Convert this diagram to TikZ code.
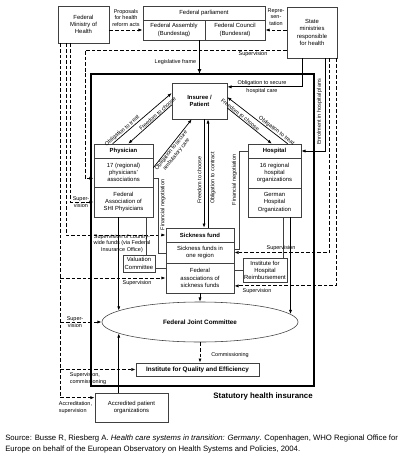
\documentclass[tikz,border=0pt]{standalone}
\usepackage{fontspec}
\setmainfont{Liberation Sans}
\usetikzlibrary{arrows.meta, shapes.geometric}

\begin{document}
\begin{tikzpicture}[x=0.025cm, y=-0.025cm,
    box/.style={draw=black!75, line width=0.4pt, fill=white, inner sep=0.5pt, align=center, font=\fontsize{4.2}{5.2}\selectfont},
    head/.style={box, font=\bfseries\fontsize{4.2}{5.2}\selectfont},
    lbl/.style={inner sep=0.4pt, align=center, font=\fontsize{3.9}{4.7}\selectfont},
    arr/.style={line width=0.5pt, -{Latex[length=3pt, width=2.2pt]}},
    rarr/.style={line width=0.5pt, {Latex[length=3pt, width=2.2pt]}-},
    sup/.style={arr, line width=0.6pt, dash pattern=on 2.6pt off 1.4pt},
    plain/.style={line width=0.35pt, draw=black!75}]
    \useasboundingbox (0, 0) rectangle (400, 461);
    \draw[line width=1.3pt] (91, 74) rectangle (314, 386);
    \coordinate (shitop) at (199.5, 74);
    \coordinate (kvx) at (85, 0);
    \coordinate (fnl) at (158, 253);
    \coordinate (fnr) at (239, 249);

    \node[box, minimum width=1.275cm, minimum height=0.925cm] (fmh) at (83.5, 24.5) {Federal\\Ministry of\\Health};
    \node[box, minimum width=3.05cm, minimum height=0.35cm] (parl) at (204, 13) {Federal parliament};
    \node[box, minimum width=1.55cm, minimum height=0.5cm] (bt) at (174, 30) {Federal Assembly\\(Bundestag)};
    \node[box, minimum width=1.5cm, minimum height=0.5cm] (br) at (235, 30) {Federal Council\\(Bundesrat)};
    \node[box, minimum width=1.25cm, minimum height=1.275cm] (sm) at (312, 32.5) {State\\ministries\\responsible\\for health};
    \node[head, minimum width=1.375cm, minimum height=0.9cm] (ins) at (199.5, 101) {Insuree /\\Patient};

    \node[head, minimum width=1.475cm, minimum height=0.35cm] (phys) at (123.5, 151) {Physician};
    \node[box, minimum width=1.475cm, minimum height=0.725cm] (kv) at (123.5, 172.5) {17 (regional)\\physicians'\\associations};
    \node[box, minimum width=1.475cm, minimum height=0.75cm] (kbv) at (123.5, 202) {Federal\\Association of\\SHI Physicians};
    \node[head, minimum width=1.325cm, minimum height=0.35cm] (hosp) at (274.5, 151) {Hospital};
    \node[box, minimum width=1.325cm, minimum height=0.75cm] (hospreg) at (274.5, 173) {16 regional\\hospital\\organizations};
    \node[box, minimum width=1.325cm, minimum height=0.725cm] (dkg) at (274.5, 202.5) {German\\Hospital\\Organization};
    \node[head, minimum width=1.7cm, minimum height=0.35cm] (sf) at (200, 235) {Sickness fund};
    \node[box, minimum width=1.7cm, minimum height=0.525cm] (sfreg) at (200, 252.5) {Sickness funds in\\one region};
    \node[box, minimum width=1.7cm, minimum height=0.75cm] (sffed) at (200, 278) {Federal\\associations of\\sickness funds};
    \node[box, minimum width=0.8cm, minimum height=0.425cm] (val) at (139, 263.5) {Valuation\\Committee};
    \node[box, minimum width=1.1cm, minimum height=0.6cm] (inek) at (265, 270.5) {Institute for\\Hospital\\Reimbursement};
    \node[box, ellipse, font=\bfseries\fontsize{4.5}{5.4}\selectfont, minimum width=4.9cm, minimum height=1cm] (gba) at (200, 322) {Federal Joint Committee};
    \node[box, font=\bfseries\fontsize{4.5}{5.4}\selectfont, minimum width=3.075cm, minimum height=0.325cm] (iqwig) at (197.5, 369.5) {Institute for Quality and Efficiency};
    \node[box, minimum width=1.825cm, minimum height=0.725cm] (pat) at (131.5, 407.5) {Accredited patient\\organizations};

    \draw[sup] (fmh.east |- bt.west) -- (bt.west);
    \draw[sup] (sm.west |- br.east) -- (br.east);
    \draw[line width=1pt, -{Latex[length=3.5pt, width=2.8pt]}] (bt.south -| shitop) -- (shitop);
    \draw[sup] (sm.215) -| (kvx |- kv.191) -- (kv.191);
    \draw[arr] (sm.249) |- (ins.27);
    \draw[arr] (sm.-63) |- (hosp.east);
    \draw[sup] (sm.-56) |- (sfreg.east);
    \draw[sup] (sm.-47) |- (sffed.-13);

    \draw[sup] (fmh.236) |- (kbv.west);
    \draw[sup] (fmh.227) |- (sf.west);
    \draw[sup] (fmh.219) |- (pat.165);
    \foreach \t in {sffed.west, gba.west, iqwig.west}
        \draw[sup] (fmh.219 |- \t) -- (\t);

    \draw[arr] (phys.146) -- node[lbl, sloped, above, pos=0.2] (ot1) {Obligation to treat} (ins.164);
    \draw[rarr] (phys.57) -- node[lbl, sloped, above, pos=0.72] (fc1) {Freedom to choose} (ins.188);
    \draw[arr] (kv.9) -- node[lbl, sloped, below, pos=0.4] (os1) {Obligation to secure\\ambulatory care} (ins.247);
    \draw[rarr] (ins.8) -- node[lbl, sloped, above, pos=0.78] (ot2) {Obligation to treat} (hosp.29);
    \draw[arr] (ins.-14) -- node[lbl, sloped, above, pos=0.25] (fc2) {Freedom to choose} (hosp.110);
    \draw[arr] (ins.-76) -- (ins.-76 |- sf.north);
    \draw[rarr] (ins.-65) -- (ins.-65 |- sf.north);

    \draw[plain] (kv.-10) -| (fnl) -- (fnl -| sfreg.west);
    \draw[plain] (hosp.west) -| (fnr) -- (fnr -| sfreg.east);
    \draw[plain] (val.50) -- (val.50 |- kbv.south);
    \draw[plain] (val.-15) -- (val.-15 -| sffed.west);
    \draw[plain] (inek.34) -- (inek.34 |- dkg.south);
    \draw[plain] (inek.west) -- (inek.west -| sffed.east);

    \draw[arr] (kbv.south -| gba.172) -- (gba.172);
    \draw[arr] (dkg.south -| gba.5) -- (gba.5);
    \draw[arr] (sffed.south) -- (gba.north);
    \draw[arr] (pat.north -| gba.188) -- (gba.188);
    \draw[sup] (gba.south) -- (gba.south |- iqwig.north);

    \node[lbl] (prop) at (126, 18) {Proposals\\for health\\reform acts};
    \node[lbl] (repr) at (276, 17) {Repre-\\sen-\\tation};
    \node[lbl] (sup1) at (253, 54.5) {Supervision};
    \node[lbl, anchor=east] (legis) at (197, 62) {Legislative frame};
    \node[lbl] (hc1) at (262, 83.5) {Obligation to secure};
    \node[lbl] (hc2) at (262, 91) {hospital care};
    \node[lbl, rotate=90] (enrol) at (319.5, 112) {Enrolment in hospital plans};
    \node[lbl, rotate=90] (fc3) at (199.5, 180) {Freedom to choose};
    \node[lbl, rotate=90] (oc) at (213, 178) {Obligation to contract};
    \node[lbl, rotate=90] (fn1) at (163, 205) {Financial negotiation};
    \node[lbl, rotate=90] (fn2) at (234.5, 180) {Financial negotiation};
    \node[lbl] (sup2) at (281, 248) {Supervision};
    \node[lbl] (sup3) at (257, 291.5) {Supervision};
    \node[lbl] (sup4) at (81, 202) {Super-\\vision};
    \node[lbl] (sup5) at (122, 243.5) {Supervision of country-\\wide funds (via Federal\\Insurance Office)};
    \node[lbl] (sup6) at (137, 283) {Supervision};
    \node[lbl] (sup7) at (75, 322) {Super-\\vision};
    \node[lbl, anchor=north west, align=left] (sup8) at (69, 372) {Supervision,\\commissioning};
    \node[lbl, anchor=north west, align=left] (acc) at (58, 401) {Accreditation,\\supervision};
    \node[lbl] (comm) at (230, 355.5) {Commissioning};
    \node[font=\bfseries\fontsize{5.6}{6.7}\selectfont, anchor=east, inner sep=0pt] (shi) at (313, 396) {Statutory health insurance};
    \node[anchor=north west, align=left, inner sep=0pt, font=\fontsize{5.5}{7.8}\selectfont] (src) at (5, 435) {Source: Busse R, Riesberg A. \textit{Health care systems in transition: Germany}. Copenhagen, WHO Regional Office for\\Europe on behalf of the European Observatory on Health Systems and Policies, 2004.};
\end{tikzpicture}
\end{document}
